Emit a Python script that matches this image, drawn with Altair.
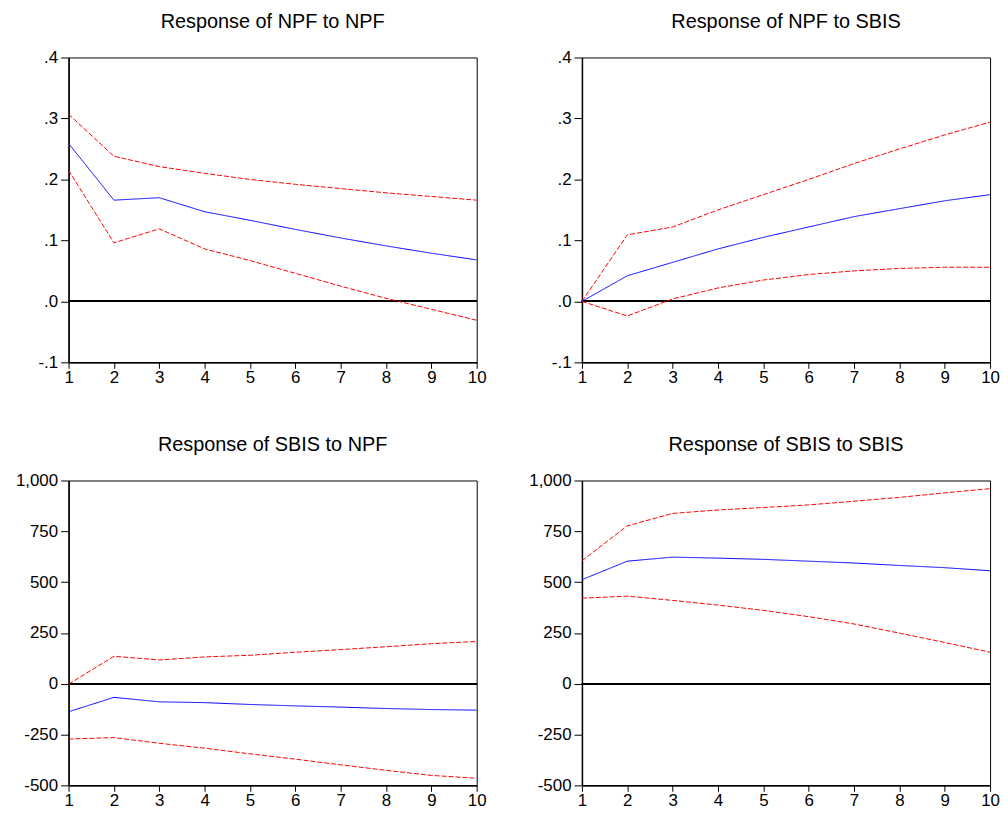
import altair as alt
import pandas as pd

steps = list(range(1, 11))

npf_npf_mean = [0.259, 0.166, 0.170, 0.147, 0.133, 0.118, 0.104, 0.091, 0.079, 0.068]
npf_npf_upper = [0.307, 0.238, 0.221, 0.210, 0.200, 0.192, 0.185, 0.178, 0.172, 0.166]
npf_npf_lower = [0.215, 0.096, 0.119, 0.086, 0.067, 0.046, 0.025, 0.005, -0.013, -0.031]

npf_sbis_mean = [0.0, 0.042, 0.064, 0.086, 0.105, 0.122, 0.139, 0.152, 0.165, 0.175]
npf_sbis_upper = [0.0, 0.109, 0.122, 0.150, 0.175, 0.200, 0.226, 0.250, 0.273, 0.294]
npf_sbis_lower = [0.0, -0.024, 0.004, 0.022, 0.035, 0.044, 0.050, 0.054, 0.056, 0.056]

sbis_npf_mean = [-138, -67, -89, -93, -102, -109, -115, -122, -127, -130]
sbis_npf_upper = [-2, 135, 117, 132, 140, 155, 168, 182, 197, 208]
sbis_npf_lower = [-272, -265, -293, -317, -345, -371, -399, -426, -451, -465]

sbis_sbis_mean = [512, 603, 623, 618, 612, 603, 594, 582, 571, 556]
sbis_sbis_upper = [605, 777, 838, 855, 867, 880, 898, 917, 939, 960]
sbis_sbis_lower = [421, 431, 410, 387, 361, 330, 294, 249, 203, 155]

titles = ["Response of NPF to NPF", "Response of NPF to SBIS",
          "Response of SBIS to NPF", "Response of SBIS to SBIS"]

npf_ticks = [-0.1, 0.0, 0.1, 0.2, 0.3, 0.4]
sbis_ticks = [-500, -250, 0, 250, 500, 750, 1000]

FONT = "Liberation Sans"


def panel(title, mean, upper, lower, domain, ticks, npf_style):
    rows = []
    for band, vals in (("Upper", upper), ("Lower", lower), ("Response", mean)):
        for s, v in zip(steps, vals):
            rows.append({"step": s, "value": v, "band": band})
    df = pd.DataFrame(rows)

    if npf_style:
        expr = "replace(replace(format(datum.value, '.1f'), '0.', '.'), '\u2212', '-')"
    else:
        expr = "replace(format(datum.value, ',.0f'), '\u2212', '-')"
    yaxis = alt.Axis(values=ticks, grid=False, title=None, tickSize=8,
                     labelPadding=3, labelFlush=False, labelOverlap=False,
                     labelExpr=expr, minExtent=55, maxExtent=55)

    x = alt.X("step:Q", scale=alt.Scale(domain=[1, 10], nice=False, zero=False),
              axis=alt.Axis(values=steps, format="d", grid=False, title=None,
                            tickSize=6, labelPadding=1, labelFlush=False,
                            labelOverlap=False))
    y = alt.Y("value:Q", scale=alt.Scale(domain=domain, nice=False, zero=False),
              axis=yaxis)

    lines = alt.Chart(df).mark_line(strokeWidth=1, clip=True).encode(
        x=x,
        y=y,
        color=alt.Color("band:N", scale=alt.Scale(domain=["Response", "Upper", "Lower"],
                                                  range=["#0000FF", "#FF0000", "#FF0000"]),
                        legend=None),
        strokeDash=alt.StrokeDash("band:N", scale=alt.Scale(domain=["Response", "Upper", "Lower"],
                                                            range=[[1, 0], [5, 2], [5, 2]]),
                                  legend=None),
        detail="band:N",
    )
    zero = alt.Chart(df).mark_rule(color="black", strokeWidth=1).encode(y=alt.datum(0))
    return alt.layer(zero, lines).properties(
        width=411, height=307,
        title=alt.TitleParams(title, fontSize=20, font=FONT, fontWeight="normal",
                              offset=17, color="black", anchor="middle"),
    )


p1 = panel(titles[0], npf_npf_mean, npf_npf_upper, npf_npf_lower, [-0.1, 0.4], npf_ticks, True)
p2 = panel(titles[1], npf_sbis_mean, npf_sbis_upper, npf_sbis_lower, [-0.1, 0.4], npf_ticks, True)
p3 = panel(titles[2], sbis_npf_mean, sbis_npf_upper, sbis_npf_lower, [-500, 1000], sbis_ticks, False)
p4 = panel(titles[3], sbis_sbis_mean, sbis_sbis_upper, sbis_sbis_lower, [-500, 1000], sbis_ticks, False)

chart = alt.concat(p1, p2, p3, p4, columns=2,
                   spacing={"row": 48, "column": 40}).properties(
    padding={"left": 5, "top": 0, "right": 0, "bottom": 0}
).configure_view(
    stroke="black", strokeWidth=1
).configure_axis(
    domainColor="black", domainWidth=1.5, tickColor="black", tickWidth=1,
    labelColor="black", labelFont=FONT, labelFontSize=17
)

chart.save("out.html", embed_options={"renderer": "svg", "actions": False})
